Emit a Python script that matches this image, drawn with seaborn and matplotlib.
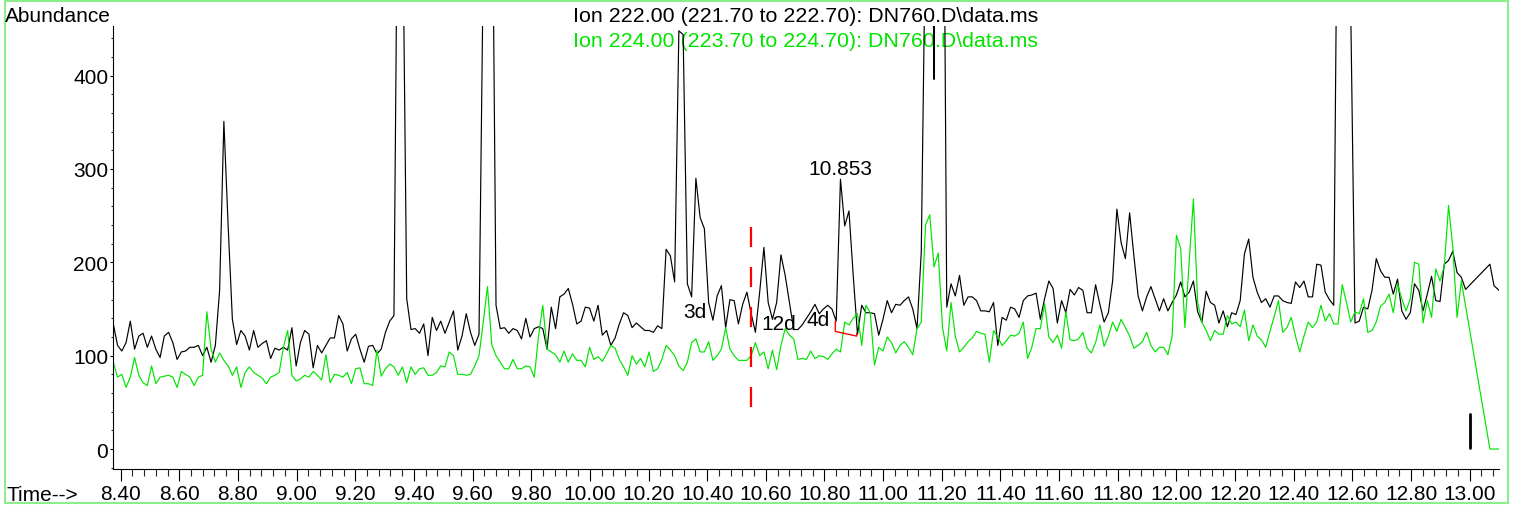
import numpy as np
import pandas as pd
import matplotlib
matplotlib.use("Agg")
import matplotlib.pyplot as plt
import matplotlib.patches as mpatches
from matplotlib.ticker import MultipleLocator, FormatStrFormatter
import seaborn as sns

# scan grid (minutes)
t_start = 8.375
t_step = 0.0145

# Ion 222.00 trace (black), one value per scan
ion222 = [
    134, 111, 105, 114, 137, 107, 121, 124, 109, 121,
    107, 98, 121, 125, 114, 96, 104, 105, 109, 109,
    111, 100, 109, 93, 111, 170, 351, 240, 139, 112,
    127, 121, 106, 127, 109, 113, 116, 97, 108, 106,
    109, 106, 130, 89, 114, 127, 123, 87, 111, 103,
    111, 119, 119, 143, 134, 105, 118, 123, 107, 93,
    110, 111, 102, 107, 125, 137, 143, 700, 600, 161,
    128, 129, 124, 134, 100, 141, 127, 137, 124, 136,
    148, 106, 121, 145, 125, 111, 123, 520, 900, 690,
    154, 129, 130, 124, 129, 127, 118, 140, 120, 129,
    131, 129, 107, 152, 129, 163, 166, 172, 155, 134,
    137, 152, 151, 137, 154, 122, 127, 111, 119, 134,
    146, 143, 130, 135, 131, 127, 127, 125, 132, 129,
    214, 207, 179, 448, 444, 177, 163, 290, 248, 236,
    157, 138, 164, 175, 130, 160, 159, 134, 155, 168,
    145, 125, 168, 216, 157, 139, 157, 208, 186, 157,
    128, 128, 133, 140, 147, 155, 145, 150, 154, 150,
    137, 289, 239, 255, 186, 123, 154, 146, 146, 145,
    122, 139, 159, 146, 155, 154, 159, 163, 150, 129,
    211, 560, 2500, 396, 2500, 840, 152, 177, 164, 186,
    154, 163, 163, 159, 148, 148, 147, 157, 111, 141,
    138, 152, 150, 141, 159, 164, 165, 167, 139, 161,
    180, 172, 135, 159, 146, 171, 165, 173, 170, 146,
    146, 176, 155, 136, 146, 180, 257, 221, 204, 253,
    207, 164, 148, 163, 174, 161, 148, 161, 148, 157,
    165, 179, 163, 168, 180, 147, 136, 169, 157, 154,
    135, 148, 131, 146, 144, 159, 209, 225, 184, 168,
    157, 161, 152, 164, 164, 159, 157, 156, 179, 173,
    180, 163, 163, 198, 197, 168, 160, 154, 700, 1400,
    1200, 470, 135, 137, 152, 150, 170, 204, 191, 184,
    184, 166, 182, 148, 139, 146, 177, 170, 148, 166,
    185, 159, 158, 198, 202, 212, 189, 184, 171,
]
ion222_tail_t = [13.069, 13.083, 13.100]
ion222_tail = [198, 175, 170]

# Ion 224.00 trace (green)
ion224 = [
    93, 77, 80, 66, 77, 98, 79, 71, 68, 89,
    70, 77, 78, 79, 77, 66, 83, 80, 77, 68,
    77, 79, 147, 107, 93, 103, 95, 89, 79, 88,
    66, 82, 88, 82, 79, 76, 70, 77, 79, 82,
    109, 127, 79, 73, 75, 79, 77, 83, 79, 74,
    101, 71, 80, 79, 77, 82, 70, 86, 87, 70,
    70, 68, 106, 78, 86, 91, 88, 79, 88, 71,
    88, 80, 86, 87, 79, 79, 82, 89, 88, 104,
    100, 80, 80, 79, 80, 89, 100, 136, 174, 112,
    100, 93, 86, 86, 96, 86, 86, 89, 88, 77,
    121, 154, 107, 104, 101, 93, 105, 93, 102, 95,
    95, 88, 109, 96, 99, 94, 102, 111, 108, 96,
    88, 79, 100, 91, 97, 88, 104, 83, 86, 96,
    111, 106, 100, 89, 84, 93, 114, 118, 104, 104,
    115, 95, 100, 107, 130, 107, 100, 95, 95, 95,
    100, 114, 100, 104, 86, 106, 85, 111, 129, 122,
    118, 96, 97, 96, 105, 97, 100, 99, 96, 102,
    107, 104, 136, 133, 140, 145, 111, 154, 146, 90,
    109, 105, 120, 114, 103, 111, 115, 109, 101, 129,
    136, 240, 251, 195, 210, 130, 105, 157, 121, 104,
    109, 115, 119, 126, 124, 123, 93, 127, 120, 111,
    116, 122, 121, 124, 136, 97, 109, 129, 129, 156,
    120, 114, 122, 108, 147, 117, 116, 118, 125, 108,
    103, 114, 133, 110, 121, 136, 126, 139, 130, 121,
    108, 111, 115, 125, 111, 104, 109, 109, 101, 121,
    229, 215, 130, 200, 268, 157, 136, 127, 116, 127,
    123, 123, 143, 134, 136, 131, 149, 116, 133, 121,
    117, 109, 126, 142, 159, 125, 130, 141, 121, 104,
    121, 136, 130, 136, 154, 137, 145, 134, 134, 176,
    157, 136, 147, 145, 161, 125, 127, 136, 153, 157,
    166, 146, 177, 161, 148, 161, 200, 198, 135, 159,
    141, 193, 180, 196, 261, 216, 141, 180,
]
ion224_tail_t = [13.069, 13.100]
ion224_tail = [0, 0]

# integration marks / labels
peak_rt = 10.853
peak_label_y = 295
baseline_t = [10.837, 10.837, 10.910, 10.910]
baseline_y = [137, 126, 121, 124]
cut_t = 10.548
cut_y = [238, 44]
event_t = 13.00
event_y = [1, 37]
tags = ["3d", "12d", "4d"]
tag_t = [10.317, 10.585, 10.737]
tag_y = [141, 129, 133]

title222 = "Ion 222.00 (221.70 to 222.70): DN760.D\\data.ms"
title224 = "Ion 224.00 (223.70 to 224.70): DN760.D\\data.ms"

GREEN = "#00e400"

sns.set_theme(style="ticks")
plt.rcParams["font.family"] = ["Liberation Sans", "DejaVu Sans"]
plt.rcParams["text.color"] = "black"


def trace(values, tail_t, tail_v):
    t = np.concatenate([t_start + t_step * np.arange(len(values)), tail_t])
    v = np.concatenate([values, tail_v])
    return pd.DataFrame({"time": t, "abundance": v})


df222 = trace(ion222, ion222_tail_t, ion222_tail)
df224 = trace(ion224, ion224_tail_t, ion224_tail)

W, H = 1515, 506
fig = plt.figure(figsize=(W / 100, H / 100), dpi=100)
ax = fig.add_axes([113.3 / W, 36 / H, (1499 - 113.3) / W, (470 - 26.7) / H])

sns.lineplot(data=df222, x="time", y="abundance", color="black", lw=0.85,
             estimator=None, sort=False, ax=ax)
sns.lineplot(data=df224, x="time", y="abundance", color=GREEN, lw=0.85,
             estimator=None, sort=False, ax=ax)

ax.plot(baseline_t, baseline_y, color="red", lw=1.0)
ax.plot([cut_t, cut_t], cut_y, color="red", lw=1.6, dashes=(9, 9))
ax.plot([event_t, event_t], event_y, color="black", lw=2)

ax.text(peak_rt, peak_label_y, "10.853", ha="center", va="baseline",
        fontsize=15, color="black")
for s, x, y in zip(tags, tag_t, tag_y):
    ax.text(x, y, s, ha="left", va="baseline", fontsize=15, color="black")

ax.set_xlim(8.375, 13.10)
ax.set_ylim(-21.4, 453.5)
ax.set_xlabel("")
ax.set_ylabel("")
sns.despine(ax=ax)
for sp in ["left", "bottom"]:
    ax.spines[sp].set_linewidth(0.8)
    ax.spines[sp].set_color("black")

ax.xaxis.set_major_locator(MultipleLocator(0.2))
ax.xaxis.set_minor_locator(MultipleLocator(0.04))
ax.xaxis.set_major_formatter(FormatStrFormatter("%.2f"))
ax.yaxis.set_major_locator(MultipleLocator(100))
ax.yaxis.set_minor_locator(MultipleLocator(20))
ax.yaxis.set_major_formatter(FormatStrFormatter("%d"))
ax.tick_params(axis="x", which="major", length=8.4, width=0.8, pad=2.2,
               labelsize=15, colors="black")
ax.tick_params(axis="x", which="minor", length=4.8, width=0.8)
ax.tick_params(axis="y", which="major", length=2.4, width=0.8, pad=1.2,
               labelsize=15, colors="black")
ax.tick_params(axis="y", which="minor", length=1.5, width=0.8)

fig.text(5 / W, 1 - 21.7 / H, "Abundance", fontsize=15, va="baseline", color="black")
fig.text(6.7 / W, 1 - 501 / H, "Time-->", fontsize=15, va="baseline", color="black")
ax.text(573.3 / W, 1 - 21.7 / H, title222, transform=fig.transFigure,
        fontsize=15.4, va="baseline", color="black", zorder=1, clip_on=False)
ax.text(573.3 / W, 1 - 46.7 / H, title224, transform=fig.transFigure,
        fontsize=15.4, va="baseline", color=GREEN, zorder=1, clip_on=False)

fig.patches.append(mpatches.Rectangle((5 / W, 2 / H), (1508 - 5) / W, (504 - 2) / H,
                                      transform=fig.transFigure, fill=False,
                                      edgecolor="#8ced8c", lw=1.5))

fig.savefig("out.png", dpi=100)
